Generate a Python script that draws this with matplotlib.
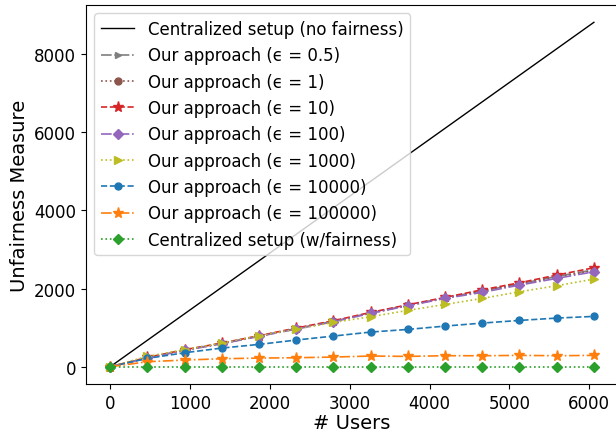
import matplotlib
matplotlib.use("Agg")
import matplotlib.pyplot as plt

# number of users at each step
users = [0, 466, 932, 1398, 1864, 2330, 2796, 3262, 3728, 4194, 4660, 5126, 5592, 6058]

# centralized setup without fairness (straight line)
central_x = [0, 6058]
central_nofair = [0, 8810]

eps_05 = [0, 230, 428, 598, 786, 978, 1165, 1378, 1572, 1762, 1940, 2120, 2310, 2480]
eps_1 = [0, 226, 424, 594, 782, 975, 1160, 1372, 1566, 1756, 1930, 2105, 2290, 2460]
eps_10 = [0, 240, 435, 606, 793, 990, 1177, 1390, 1586, 1774, 1969, 2148, 2345, 2532]
eps_100 = [0, 222, 419, 588, 777, 964, 1151, 1365, 1560, 1748, 1903, 2089, 2260, 2430]
eps_1000 = [0, 266, 435, 606, 793, 964, 1135, 1279, 1442, 1594, 1748, 1918, 2072, 2243]
eps_10000 = [0, 214, 358, 478, 572, 683, 785, 887, 955, 1040, 1117, 1185, 1245, 1288]
eps_100000 = [0, 128, 171, 205, 222, 231, 248, 274, 265, 282, 282, 291, 282, 291]
central_fair = [0] * len(users)

fig = plt.figure(figsize=(6.16, 4.35), dpi=100)
ax = fig.add_axes([0.1396, 0.115, 0.8638, 0.871])

ax.plot(central_x, central_nofair, color="black", linewidth=1.0,
        label="Centralized setup (no fairness)")
ax.plot(users, eps_05, "-.", marker=">", markersize=5, linewidth=1.2, color="tab:gray", label="Our approach (\u03f5 = 0.5)")
ax.plot(users, eps_1, ":", marker="o", markersize=5, linewidth=1.2, color="tab:brown", label="Our approach (\u03f5 = 1)")
ax.plot(users, eps_10, "--", marker="*", markersize=8, linewidth=1.2, color="tab:red", label="Our approach (\u03f5 = 10)")
ax.plot(users, eps_100, "-.", marker="D", markersize=5, linewidth=1.2, color="tab:purple", label="Our approach (\u03f5 = 100)")
ax.plot(users, eps_1000, ":", marker=">", markersize=6, linewidth=1.2, color="tab:olive", label="Our approach (\u03f5 = 1000)")
ax.plot(users, eps_10000, "--", marker="o", markersize=5, linewidth=1.2, color="tab:blue", label="Our approach (\u03f5 = 10000)")
ax.plot(users, eps_100000, "-.", marker="*", markersize=8, linewidth=1.2, color="tab:orange", label="Our approach (\u03f5 = 100000)")
ax.plot(users, central_fair, ":", marker="D", markersize=5, linewidth=1.2, color="tab:green",
        label="Centralized setup (w/fairness)")

ax.set_xticks([0, 1000, 2000, 3000, 4000, 5000, 6000])
ax.set_yticks([0, 2000, 4000, 6000, 8000])
ax.tick_params(labelsize=12)
ax.set_xlabel("# Users", fontsize=14, labelpad=1)
ax.set_ylabel("Unfairness Measure", fontsize=14)
ax.legend(loc="upper left", fontsize=12, labelspacing=0.5)

fig.savefig("out.png", dpi=100)
